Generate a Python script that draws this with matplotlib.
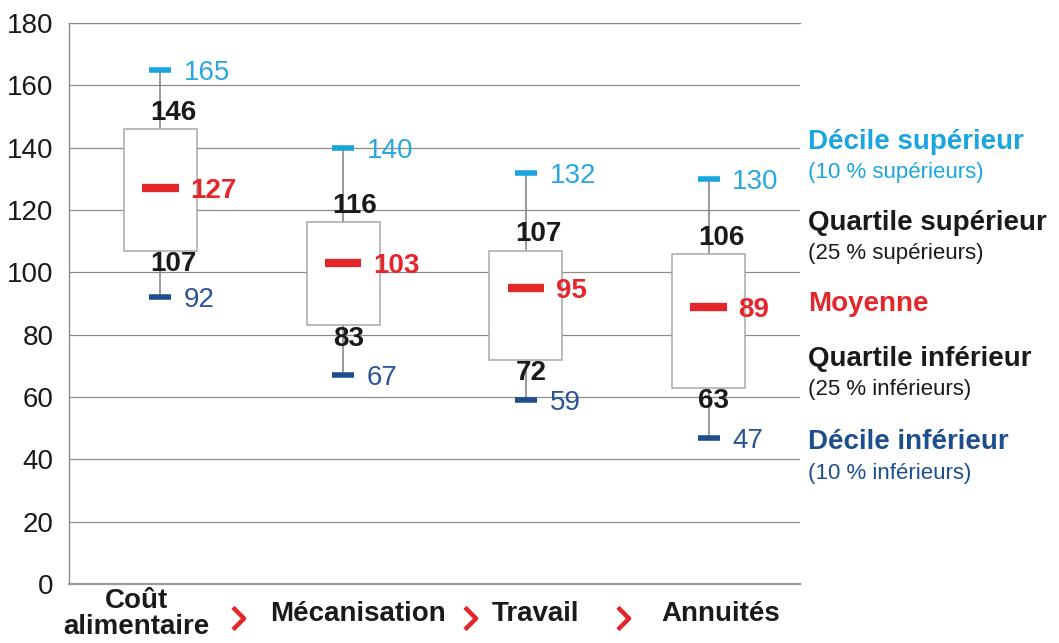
import matplotlib
matplotlib.use("Agg")
import matplotlib.pyplot as plt
from matplotlib.path import Path
from matplotlib.transforms import offset_copy, blended_transform_factory
import numpy as np

plt.rcParams['font.family'] = ['Liberation Sans', 'DejaVu Sans']

categories = ["Coût\nalimentaire", "Mécanisation", "Travail", "Annuités"]
decile_sup = [165, 140, 132, 130]
quartile_sup = [146, 116, 107, 106]
moyenne = [127, 103, 95, 89]
quartile_inf = [107, 83, 72, 63]
decile_inf = [92, 67, 59, 47]
yticks = [0, 20, 40, 60, 80, 100, 120, 140, 160, 180]

legend_items = [
    ("Décile supérieur", "(10 % supérieurs)", "#1BA5E0"),
    ("Quartile supérieur", "(25 % supérieurs)", "#1A1A1A"),
    ("Moyenne", None, "#E4262B"),
    ("Quartile inférieur", "(25 % inférieurs)", "#1A1A1A"),
    ("Décile inférieur", "(10 % inférieurs)", "#1F4E8F"),
]

C_LBLUE = "#1BA5E0"
C_DBLUE = "#1F4E8F"
C_RED = "#E4262B"
C_TEXT = "#1A1A1A"
C_GRID = "#8C8C8C"

fig = plt.figure(figsize=(10.59, 6.43), dpi=100)
ax = fig.add_axes([69/1059, 1-584/643, 731/1059, 561/643])

x = np.arange(len(categories))
ax.set_xlim(-0.5, len(categories)-0.5)
ax.set_ylim(0, 180)

# grid
for t in yticks[1:]:
    ax.axhline(t, color=C_GRID, lw=0.9, zorder=1)

# whiskers
ax.vlines(x, quartile_sup, decile_sup, color="#7F7F7F", lw=1.1, zorder=2)
ax.vlines(x, decile_inf, quartile_inf, color="#7F7F7F", lw=1.1, zorder=2)

# boxes
heights = np.array(quartile_sup) - np.array(quartile_inf)
ax.bar(x, heights, bottom=quartile_inf, width=0.40, facecolor="white",
       edgecolor="#A8A8A8", linewidth=1.1, zorder=3)

# decile markers
ax.hlines(decile_sup, x-0.06, x+0.06, color=C_LBLUE, lw=4, zorder=4, capstyle='butt')
ax.hlines(decile_inf, x-0.06, x+0.06, color=C_DBLUE, lw=4, zorder=4, capstyle='butt')
# mean
ax.hlines(moyenne, x-0.10, x+0.10, color=C_RED, lw=6, zorder=4, capstyle='butt')

fs = 20
for i in range(len(categories)):
    ax.annotate(str(decile_sup[i]), (x[i], decile_sup[i]), xytext=(17, 0),
                textcoords='offset points', ha='left', va='center_baseline',
                fontsize=fs, color="#29A8E0", zorder=5)
    ax.annotate(str(decile_inf[i]), (x[i], decile_inf[i]), xytext=(17, 0),
                textcoords='offset points', ha='left', va='center_baseline',
                fontsize=fs, color="#2B5497", zorder=5)
    ax.annotate(str(moyenne[i]), (x[i], moyenne[i]), xytext=(21.5, 0),
                textcoords='offset points', ha='left', va='center_baseline',
                fontsize=fs, color=C_RED, fontweight='bold', zorder=5)
    ax.annotate(str(quartile_sup[i]), (x[i], quartile_sup[i]), xytext=(-7.5, 6.5),
                textcoords='offset points', ha='left', va='baseline',
                fontsize=fs, color=C_TEXT, fontweight='bold', zorder=5)
    ax.annotate(str(quartile_inf[i]), (x[i], quartile_inf[i]), xytext=(-7.5, -15),
                textcoords='offset points', ha='left', va='baseline',
                fontsize=fs, color=C_TEXT, fontweight='bold', zorder=5)

# axes styling
ax.set_yticks(yticks)
ax.set_yticklabels([str(t) for t in yticks], fontsize=fs, color=C_TEXT)
ax.tick_params(axis='y', length=0, pad=11)
ax.set_xticks([])
for s in ['top', 'right']:
    ax.spines[s].set_visible(False)
ax.spines['left'].set_color("#8C8C8C")
ax.spines['left'].set_linewidth(1.0)
ax.spines['bottom'].set_color("#9A9A9A")
ax.spines['bottom'].set_linewidth(1.6)
ax.axhline(180, color=C_GRID, lw=0.9, zorder=1, clip_on=False)

# category labels
trans = blended_transform_factory(ax.transData, ax.transAxes)
label_dx = [-24, 15, 10, 12]  # px offsets
for i, cat in enumerate(categories):
    tr = offset_copy(trans, fig=fig, x=label_dx[i], y=-30, units='dots')
    ax.text(x[i], 0, cat, transform=tr, ha='center', va='center',
            fontsize=fs, fontweight='bold', color=C_TEXT, linespacing=0.95)

# chevrons
chev = Path([(-0.5, 1.0), (0.5, 0.0), (-0.5, -1.0)],
            [Path.MOVETO, Path.LINETO, Path.LINETO])
chev_x = [0.425, 1.694, 2.53]
trc = offset_copy(trans, fig=fig, x=0, y=-34, units='dots')
ax.plot(chev_x, [0]*len(chev_x), linestyle='none', marker=chev, markersize=16,
        markeredgewidth=3.2, markerfacecolor='none', markeredgecolor=C_RED,
        transform=trc, clip_on=False)

# legend text on right
leg_y = [142, 223, 304, 359, 442]
for (title, sub, col), yy in zip(legend_items, leg_y):
    fig.text(808/1059, 1-yy/643, title, ha='left', va='center', fontsize=fs,
             fontweight='bold', color=col)
    if sub:
        fig.text(808/1059, 1-(yy+31)/643, sub, ha='left', va='center', fontsize=16,
                 color=col)

fig.savefig("out.png", dpi=100)
